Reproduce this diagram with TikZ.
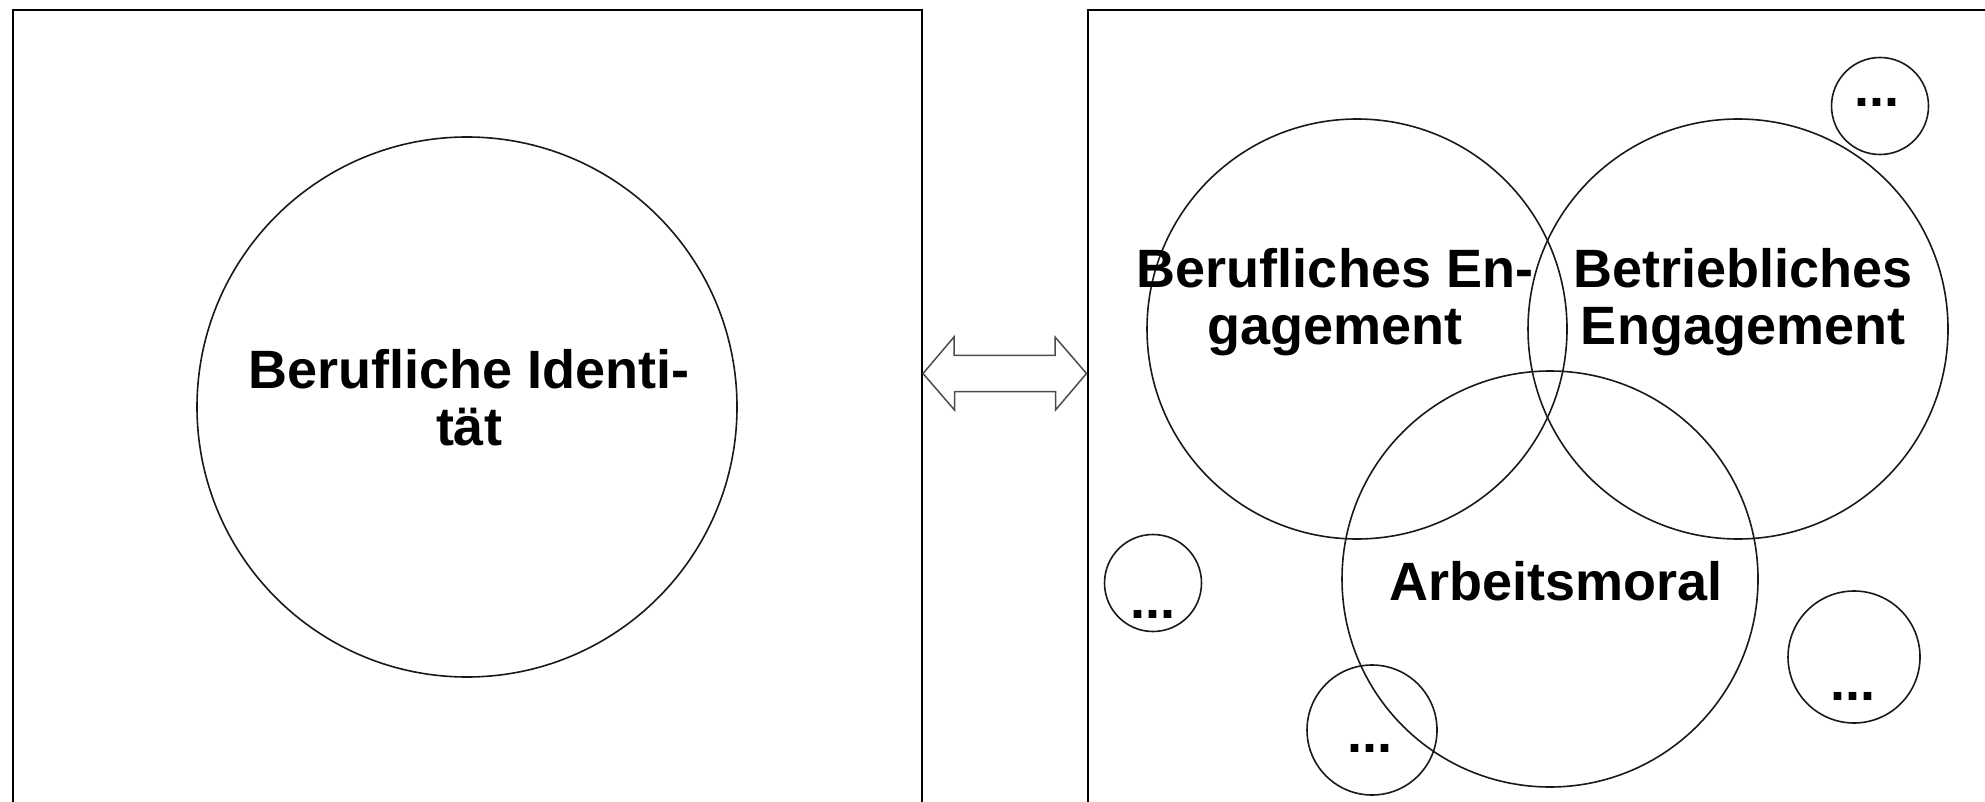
\documentclass[tikz,border=0pt]{standalone}
\usepackage{fontspec}
\setmainfont{Liberation Sans}
\begin{document}
\begin{tikzpicture}[x=1pt,y=-1pt,
  panel/.style={draw=black, line width=2pt, rectangle, inner sep=0pt, anchor=north west},
  bubble/.style={circle, draw=black!90, line width=1.6pt, inner sep=0pt, minimum size=#1},
  lbl/.style={font=\fontsize{54}{57}\selectfont\bfseries, align=center, inner sep=0pt},
  twoway/.style={draw=black!70, line width=1.5pt, line join=miter}
]
\useasboundingbox (0,0) rectangle (1985,802);
\clip (0,0) rectangle (1985,802);

% the two panels
\node[panel, minimum width=909pt, minimum height=830pt] (idpanel) at (12,9) {};
\node[panel, minimum width=940pt, minimum height=830pt] (engpanel) at (1086.5,9) {};

% double arrow between the panels
\coordinate (tipL) at (idpanel.north east |- 0,373.5);
\coordinate (tipR) at (engpanel.north west |- 0,373.5);
\draw[twoway] (tipL) -- ++(31,-36.5) -- ++(0,18.3) -- ++(101,0) -- ++(0,-18.3)
  -- (tipR) -- ++(-31,36.5) -- ++(0,-18.3) -- ++(-101,0) -- ++(0,18.3) -- cycle;

% left panel
\node[bubble=540pt] (ident) at (467,407) {};
\node[lbl] (identtxt) at (469,398) {Berufliche Identi-\\tät};

% right panel: overlapping circles
\node[bubble=420pt] (beruf) at (1357,329) {};
\node[bubble=420pt] (betrieb) at (1738,329) {};
\node[bubble=416pt] (moral) at (1550,579) {};
\node[lbl] (berufTxt) at (1335,302) {Berufliches En-\\gagement};
\node[lbl] (betriebTxt) at (1743,302) {Betriebliches\\Engagement};
\node[lbl, anchor=base] (moralTxt) at (1556,600) {Arbeitsmoral};

% further, unnamed aspects
\node[bubble=97pt] (etc1) at (1880,106) {};
\node[bubble=97pt] (etc2) at (1153,583) {};
\node[bubble=130pt] (etc3) at (1372,730) {};
\node[bubble=132pt] (etc4) at (1854,657) {};
\node[lbl, anchor=base] (etc1txt) at (1877,107) {...};
\node[lbl, anchor=base] (etc2txt) at (1152.5,618) {...};
\node[lbl, anchor=base] (etc3txt) at (1370,752) {...};
\node[lbl, anchor=base] (etc4txt) at (1853,700) {...};
\end{tikzpicture}
\end{document}
